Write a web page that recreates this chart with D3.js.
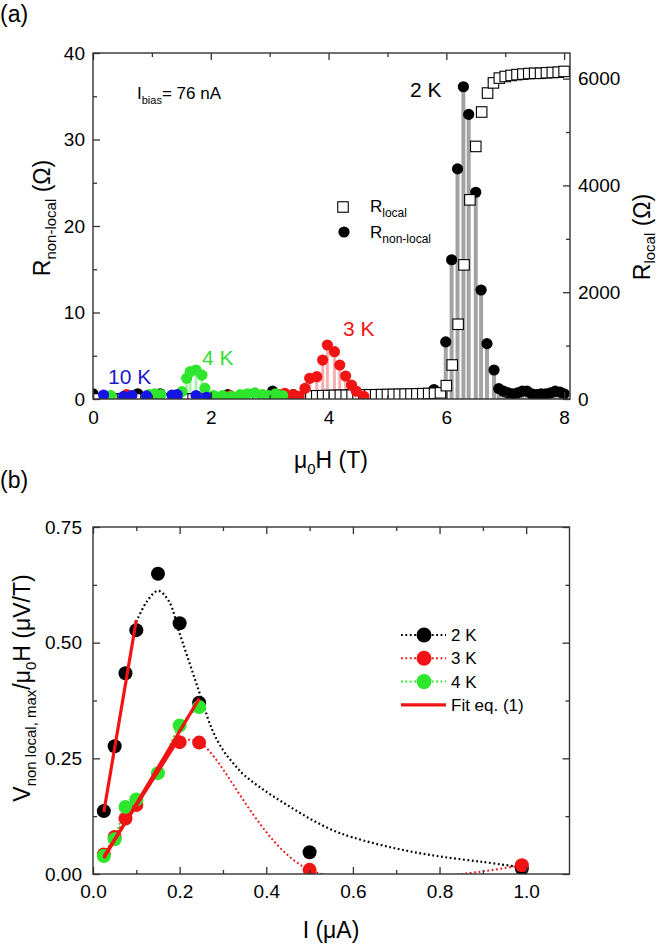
<!DOCTYPE html>
<html><head><meta charset="utf-8">
<script src="https://cdn.jsdelivr.net/npm/d3@7"></script>
<style>body{margin:0;background:#fff}</style>
</head><body><svg id="c" width="662" height="944"></svg>
<script>
// ---------- Panel (a) data ----------
const f2K = [0.0,0.76,1.14,2.29,2.66,3.05,3.40,3.80,4.05,4.36,4.70,5.05,5.40,5.60,5.79,5.99,6.09,6.19,6.29,6.38,6.50,6.59,6.69,6.81,6.89,6.97,7.05,7.13,7.21,7.29,7.37,7.45,7.53,7.61,7.69,7.77,7.85,7.93,8.0];
const r2K = [0.6,0.6,0.6,0.5,0.5,0.9,0.5,0.4,0.4,0.6,0.5,0.4,0.5,0.4,1.1,6.6,16.1,26.6,36.1,32.9,23.9,12.6,6.4,3.35,1.2,0.9,0.7,0.6,0.7,0.9,0.9,0.6,0.5,0.6,0.6,0.7,0.9,0.8,0.6];
const f3K = [0.57,2.33,3.16,3.26,3.40,3.50,3.60,3.68,3.80,3.90,3.98,4.10,4.19,4.29,4.39,4.47,4.60];
const r3K = [0.5,0.4,0.5,0.65,0.5,0.3,1.23,2.39,2.58,4.5,6.24,5.47,3.93,2.66,1.62,0.9,0.3];
const f4K = [0.30,0.95,1.05,1.15,1.51,1.59,1.65,1.75,1.85,1.90,2.05,2.20,2.35,2.50,2.62,2.75,2.88,2.98,3.10,3.22];
const r4K = [0.4,0.5,0.6,0.5,0.85,2.39,3.16,3.35,2.77,1.23,0.4,0.4,0.3,0.5,0.6,0.7,0.5,0.4,0.6,0.4];
const f10K = [0.18,0.52,0.66,0.91,1.34,1.43,1.75,1.93];
const r10K = [0.46,0.3,0.4,0.35,0.45,0.5,0.4,0.2];
const fLoc = [0.0,0.1,0.2,0.3,0.4,0.5,0.6,0.7,0.8,0.9,1.0,1.1,1.2,1.3,1.4,1.5,1.6,1.7,1.8,1.9,2.0,2.1,2.2,2.3,2.4,2.5,2.6,2.7,2.8,2.9,3.0,3.1,3.2,3.3,3.4,3.5,3.6,3.7,3.8,3.9,4.0,4.1,4.2,4.3,4.4,4.5,4.6,4.7,4.8,4.9,5.0,5.1,5.2,5.3,5.4,5.5,5.6,5.7,5.8,5.9,6.0,6.1,6.2,6.3,6.4,6.5,6.6,6.7,6.8,6.9,7.0,7.1,7.2,7.3,7.4,7.5,7.6,7.7,7.8,7.9,8.0];
const rLoc = [0,0,0,0,0,0,0,0,0,0,0,0,0,0,0,0,0,0,0,0,0,0,0,0,0,0,0,0,0,0,0,0,0,0,0,0,0,
  55,60,62,65,68,70,70,72,74,76,78,80,82,84,86,88,90,93,96,100,104,108,115,
  250,637,1400,2512,3730,4730,5375,5730,5920,6010,
  6040,6060,6075,6085,6095,6100,6100,6110,6115,6120,6135];
const xTicksA = [0,2,4,6,8], xMinorA = [1,3,5,7];
const yTicksA = [0,10,20,30,40], yMinorA = [5,15,25,35];
const rTicksA = [0,2000,4000,6000], rMinorA = [1000,3000,5000];

// ---------- Panel (b) data ----------
const I2 = [0.025,0.05,0.075,0.10,0.15,0.20,0.245,0.50,0.99];
const V2 = [0.136,0.276,0.434,0.527,0.649,0.542,0.37,0.047,0.012];
const I3 = [0.025,0.05,0.075,0.10,0.20,0.245,0.50,0.99];
const V3 = [0.042,0.080,0.120,0.149,0.285,0.284,0.009,0.019];
const I4 = [0.025,0.05,0.075,0.10,0.15,0.20,0.245];
const V4 = [0.039,0.075,0.145,0.161,0.218,0.321,0.361];
const curve2I = [0.10,0.125,0.15,0.175,0.20,0.225,0.25,0.275,0.30,0.325,0.35,0.40,0.45,0.50,0.55,0.60,0.70,0.80,0.90,0.97];
const curve2V = [0.545,0.59,0.612,0.59,0.52,0.45,0.38,0.312,0.268,0.238,0.213,0.178,0.148,0.12,0.096,0.079,0.055,0.038,0.026,0.017];
const fit2I = [0.025,0.10], fit2V = [0.134,0.549];
const fit3I = [0.025,0.20], fit3V = [0.038,0.295];
const fit4I = [0.025,0.245], fit4V = [0.034,0.379];
const xTicksB = [0,0.2,0.4,0.6,0.8,1.0], xMinorB = [0.1,0.3,0.5,0.7,0.9];
const yTicksB = [0,0.25,0.5,0.75], yMinorB = [0.125,0.375,0.625];
const legendB = ["2 K","3 K","4 K","Fit eq. (1)"];

// ---------- helpers ----------
const FONT = "'Liberation Sans', Arial, Helvetica, sans-serif";
const svg = d3.select("#c");
const BLACK="#000", RED="#f01414", GREEN="#2ee62e", BLUE="#1414e6";
const zip = (a,b)=>a.map((v,i)=>[v,b[i]]);

function rich(g, x, y, parts, fill, anchor){
  const t = g.append("text").attr("x",x).attr("y",y).attr("font-family",FONT)
    .attr("fill",fill||"#000").attr("text-anchor",anchor||"start");
  parts.forEach(p=>t.append("tspan").attr("font-size",p[1]).attr("dy",p[2]||0).text(p[0]));
  return t;
}
function styleAxis(g, fs){
  g.select(".domain").remove();
  g.attr("font-family",FONT).attr("font-size",fs);
  g.selectAll("line").attr("stroke","#333").attr("stroke-width",1.3);
  g.selectAll("text").attr("fill","#000");
}

// ================= Panel (a) =================
const xA = d3.scaleLinear().domain([0,8.1]).range([93,570]);
const yA = d3.scaleLinear().domain([0,40]).range([399,53]);
const yR = d3.scaleLinear().domain([0,6480]).range([399,53]);

svg.append("clipPath").attr("id","clipA").append("rect")
  .attr("x",93).attr("y",53).attr("width",477).attr("height",346);
const pa = svg.append("g").attr("clip-path","url(#clipA)");

function drops(data, col, w){
  pa.append("g").selectAll("line").data(data).join("line")
    .attr("x1",d=>xA(d[0])).attr("x2",d=>xA(d[0]))
    .attr("y1",d=>yA(d[1])).attr("y2",yA(0))
    .attr("stroke",col).attr("stroke-width",w);
}
function dots(data, col, r){
  pa.append("g").selectAll("circle").data(data).join("circle")
    .attr("cx",d=>xA(d[0])).attr("cy",d=>yA(d[1])).attr("r",r).attr("fill",col);
}
const d2 = zip(f2K,r2K), d3K = zip(f3K,r3K), d4 = zip(f4K,r4K), d10 = zip(f10K,r10K);
drops(d2,"#a3a3a3",4);
drops(d3K,"#f6b0b0",3);
drops(d4,"#b0f0b0",3);
drops(d10,"#b4b4f4",3);
dots(d2,BLACK,5.6);
const SQ=10.5;
pa.append("g").selectAll("rect").data(zip(fLoc,rLoc)).join("rect")
  .attr("x",d=>xA(d[0])-SQ/2).attr("y",d=>yR(d[1])-SQ/2)
  .attr("width",SQ).attr("height",SQ).attr("fill","#fff").attr("stroke","#000").attr("stroke-width",1.1);
dots(d3K,RED,5.6);
dots(d4,GREEN,5.6);
dots(d10,BLUE,5.6);

// axes (a)
const axA = svg.append("g");
styleAxis(axA.append("g").attr("transform","translate(0,399)")
  .call(d3.axisBottom(xA).tickValues(xTicksA).tickSize(-7).tickPadding(12).tickFormat(d3.format("d"))),19);
styleAxis(axA.append("g").attr("transform","translate(0,399)")
  .call(d3.axisBottom(xA).tickValues(xMinorA).tickSize(-4).tickFormat("")),19);
styleAxis(axA.append("g").attr("transform","translate(0,53)")
  .call(d3.axisTop(xA).tickValues(xTicksA).tickSize(-7).tickFormat("")),19);
styleAxis(axA.append("g").attr("transform","translate(0,53)")
  .call(d3.axisTop(xA).tickValues(xMinorA).tickSize(-4).tickFormat("")),19);
styleAxis(axA.append("g").attr("transform","translate(93,0)")
  .call(d3.axisLeft(yA).tickValues(yTicksA).tickSize(-7).tickPadding(8).tickFormat(d3.format("d"))),19);
styleAxis(axA.append("g").attr("transform","translate(93,0)")
  .call(d3.axisLeft(yA).tickValues(yMinorA).tickSize(-4).tickFormat("")),19);
styleAxis(axA.append("g").attr("transform","translate(570,0)")
  .call(d3.axisRight(yR).tickValues(rTicksA).tickSize(-7).tickPadding(8).tickFormat(d3.format("d"))),19);
styleAxis(axA.append("g").attr("transform","translate(570,0)")
  .call(d3.axisRight(yR).tickValues(rMinorA).tickSize(-4).tickFormat("")),19);
svg.append("rect").attr("x",93).attr("y",53).attr("width",477).attr("height",346)
  .attr("fill","none").attr("stroke","#333").attr("stroke-width",1.4);

// texts (a)
rich(svg,0,22,[["(a)",23]]);
rich(svg,137,99,[["I",17],["bias",11,5],["= 76 nA",17,-5]]);
rich(svg,410,97,[["2 K",21]]);
rich(svg,343,336,[["3 K",21]],RED);
rich(svg,202,365,[["4 K",21]],"#33dd33");
rich(svg,108,384,[["10 K",21]],"#1a1acc");
// legend (a)
svg.append("rect").attr("x",343-SQ/2).attr("y",207-SQ/2).attr("width",SQ).attr("height",SQ)
  .attr("fill","#fff").attr("stroke","#000").attr("stroke-width",1.1);
svg.append("circle").attr("cx",344).attr("cy",232).attr("r",5.6).attr("fill","#000");
rich(svg,370,212,[["R",17],["local",12,5]]);
rich(svg,370,238,[["R",17],["non-local",12,5]]);
// axis titles (a)
rich(svg,331,468,[["μ",23],["0",15,6],["H (T)",23,-6]],"#000","middle");
rich(svg.append("g").attr("transform","translate(50,218) rotate(-90)"),0,0,
  [["R",23],["non-local",15,6],[" (Ω)",23,-6]],"#000","middle");
rich(svg.append("g").attr("transform","translate(650,237) rotate(-90)"),0,0,
  [["R",23],["local",15,5],[" (Ω)",23,-5]],"#000","middle");

// ================= Panel (b) =================
const xB = d3.scaleLinear().domain([0,1.1]).range([93,569.5]);
const yB = d3.scaleLinear().domain([0,0.75]).range([874,527]);
svg.append("clipPath").attr("id","clipB").append("rect")
  .attr("x",93).attr("y",527).attr("width",476.5).attr("height",347);
const pb = svg.append("g").attr("clip-path","url(#clipB)");
const lineB = d3.line().x(d=>xB(d[0])).y(d=>yB(d[1])).curve(d3.curveCatmullRom.alpha(0.5));
const lineStraight = d3.line().x(d=>xB(d[0])).y(d=>yB(d[1]));

pb.append("path").attr("d",lineB(zip(curve2I,curve2V))).attr("fill","none")
  .attr("stroke",BLACK).attr("stroke-width",2.2).attr("stroke-dasharray","1.8,2.6");
pb.append("path").attr("d",lineB(zip(I3,V3))).attr("fill","none")
  .attr("stroke",RED).attr("stroke-width",2).attr("stroke-dasharray","1.8,2.6");
pb.append("path").attr("d",lineB(zip(I4,V4))).attr("fill","none")
  .attr("stroke",GREEN).attr("stroke-width",2).attr("stroke-dasharray","1.8,2.6");
function dotsB(I,V,col){
  pb.append("g").selectAll("circle").data(zip(I,V)).join("circle")
    .attr("cx",d=>xB(d[0])).attr("cy",d=>yB(d[1])).attr("r",7).attr("fill",col);
}
dotsB(I2,V2,BLACK);
dotsB(I3,V3,RED);
dotsB(I4,V4,GREEN);
[[fit2I,fit2V],[fit3I,fit3V],[fit4I,fit4V]].forEach(f=>{
  pb.append("path").attr("d",lineStraight(zip(f[0],f[1]))).attr("fill","none")
    .attr("stroke",RED).attr("stroke-width",3.2);
});

// axes (b)
const axB = svg.append("g");
styleAxis(axB.append("g").attr("transform","translate(0,874)")
  .call(d3.axisBottom(xB).tickValues(xTicksB).tickSize(-7).tickPadding(11).tickFormat(d3.format(".1f"))),19);
styleAxis(axB.append("g").attr("transform","translate(0,874)")
  .call(d3.axisBottom(xB).tickValues(xMinorB).tickSize(-4).tickFormat("")),19);
styleAxis(axB.append("g").attr("transform","translate(0,527)")
  .call(d3.axisTop(xB).tickValues(xTicksB).tickSize(-7).tickFormat("")),19);
styleAxis(axB.append("g").attr("transform","translate(0,527)")
  .call(d3.axisTop(xB).tickValues(xMinorB).tickSize(-4).tickFormat("")),19);
styleAxis(axB.append("g").attr("transform","translate(93,0)")
  .call(d3.axisLeft(yB).tickValues(yTicksB).tickSize(-7).tickPadding(11).tickFormat(d3.format(".2f"))),19);
styleAxis(axB.append("g").attr("transform","translate(93,0)")
  .call(d3.axisLeft(yB).tickValues(yMinorB).tickSize(-4).tickFormat("")),19);
styleAxis(axB.append("g").attr("transform","translate(569.5,0)")
  .call(d3.axisRight(yB).tickValues(yTicksB).tickSize(-7).tickFormat("")),19);
styleAxis(axB.append("g").attr("transform","translate(569.5,0)")
  .call(d3.axisRight(yB).tickValues(yMinorB).tickSize(-4).tickFormat("")),19);
svg.append("rect").attr("x",93).attr("y",527).attr("width",476.5).attr("height",347)
  .attr("fill","none").attr("stroke","#333").attr("stroke-width",1.4);

// legend (b)
const legCols = [BLACK,RED,GREEN,RED];
legendB.forEach((lab,i)=>{
  const cy = 635 + i*23.3;
  const ln = svg.append("line").attr("x1",401).attr("x2",446).attr("y1",cy).attr("y2",cy)
    .attr("stroke",legCols[i]);
  if(i<3){
    ln.attr("stroke-width",2).attr("stroke-dasharray","1.8,2.6");
    svg.append("circle").attr("cx",424).attr("cy",cy).attr("r",7.5).attr("fill",legCols[i]);
  } else ln.attr("stroke-width",3.2);
  rich(svg,451,cy+6,[[lab,17]]);
});

// texts (b)
rich(svg,0,488,[["(b)",23]]);
rich(svg,331,938,[["I (μA)",23]],"#000","middle");
rich(svg.append("g").attr("transform","translate(30,688) rotate(-90)"),0,0,
  [["V",23],["non local, max",15,6],["/μ",23,-6],["0",15,6],["H (μV/T)",23,-6]],"#000","middle");
</script></body></html>
